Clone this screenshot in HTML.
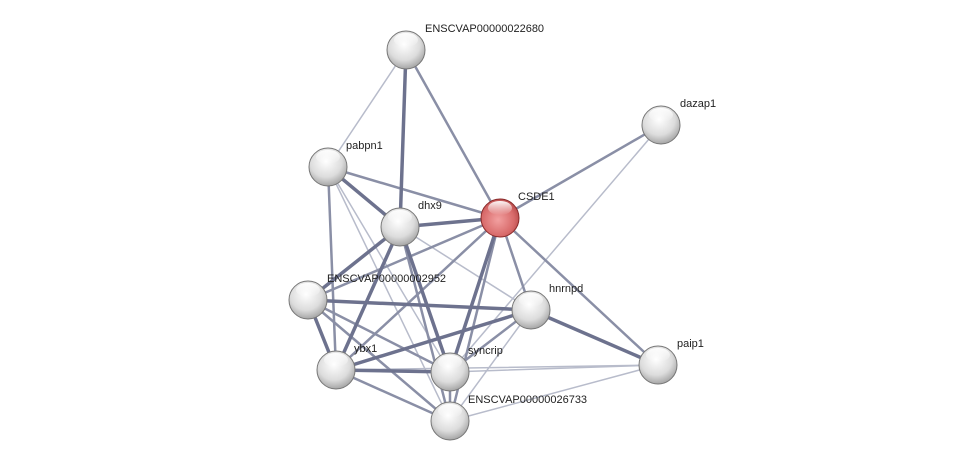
<!DOCTYPE html>
<html><head><meta charset="utf-8"><style>
html,body{margin:0;padding:0;background:#fff;width:975px;height:467px;overflow:hidden}
text{font-family:"Liberation Sans",sans-serif;font-size:11px;fill:#222}
</style></head><body>
<svg width="975" height="467" viewBox="0 0 975 467" xmlns="http://www.w3.org/2000/svg">
<defs>
<radialGradient id="g" cx="0.45" cy="0.35" r="0.7">
<stop offset="0" stop-color="#ffffff"/><stop offset="0.6" stop-color="#dcdcdc"/><stop offset="1" stop-color="#9a9a9a"/>
</radialGradient>
<radialGradient id="r" cx="0.45" cy="0.55" r="0.7">
<stop offset="0" stop-color="#f2a0a0"/><stop offset="0.6" stop-color="#d86a6a"/><stop offset="1" stop-color="#a03636"/>
</radialGradient>
<linearGradient id="hl" x1="0" y1="0" x2="0" y2="1">
<stop offset="0" stop-color="#fff" stop-opacity="0.95"/><stop offset="1" stop-color="#fff" stop-opacity="0"/>
</linearGradient>
</defs>
<g stroke-linecap="round">
<!-- light edges -->
<g stroke="#b8bccb" stroke-width="1.5">
<line x1="406" y1="50" x2="328" y2="167"/>
<line x1="661" y1="125" x2="450" y2="372"/>
<line x1="336" y1="370" x2="658" y2="365"/>
<line x1="450" y1="372" x2="658" y2="365"/>
<line x1="450" y1="421" x2="658" y2="365"/>
<line x1="328" y1="167" x2="450" y2="372"/>
<line x1="400" y1="227" x2="531" y2="310"/>
<line x1="450" y1="421" x2="531" y2="310"/>
<line x1="328" y1="167" x2="450" y2="421"/>
</g>
<!-- medium edges -->
<g stroke="#8a8fa6" stroke-width="2.5">
<line x1="406" y1="50" x2="500" y2="218"/>
<line x1="661" y1="125" x2="500" y2="218"/>
<line x1="328" y1="167" x2="500" y2="218"/>
<line x1="328" y1="167" x2="336" y2="370"/>
<line x1="500" y1="218" x2="658" y2="365"/>
<line x1="500" y1="218" x2="308" y2="300"/>
<line x1="500" y1="218" x2="336" y2="370"/>
<line x1="500" y1="218" x2="450" y2="421"/>
<line x1="500" y1="218" x2="531" y2="310"/>
<line x1="400" y1="227" x2="450" y2="421"/>
<line x1="308" y1="300" x2="450" y2="372"/>
<line x1="308" y1="300" x2="450" y2="421"/>
<line x1="336" y1="370" x2="450" y2="421"/>
<line x1="531" y1="310" x2="450" y2="372"/>
<line x1="450" y1="372" x2="450" y2="421"/>
</g>
<!-- thick edges -->
<g stroke="#6d728e" stroke-width="3.5">
<line x1="406" y1="50" x2="400" y2="227"/>
<line x1="328" y1="167" x2="400" y2="227"/>
<line x1="400" y1="227" x2="500" y2="218"/>
<line x1="400" y1="227" x2="308" y2="300"/>
<line x1="400" y1="227" x2="336" y2="370"/>
<line x1="400" y1="227" x2="450" y2="372"/>
<line x1="500" y1="218" x2="450" y2="372"/>
<line x1="308" y1="300" x2="531" y2="310"/>
<line x1="308" y1="300" x2="336" y2="370"/>
<line x1="531" y1="310" x2="336" y2="370"/>
<line x1="531" y1="310" x2="658" y2="365"/>
<line x1="336" y1="370" x2="450" y2="372"/>
</g>
</g>
<g stroke="#777" stroke-width="1">
<circle cx="406" cy="50" r="19" fill="url(#g)"/>
<circle cx="661" cy="125" r="19" fill="url(#g)"/>
<circle cx="328" cy="167" r="19" fill="url(#g)"/>
<circle cx="400" cy="227" r="19" fill="url(#g)"/>
<circle cx="500" cy="218" r="19" fill="url(#r)" stroke="#8a2a2a"/>
<circle cx="308" cy="300" r="19" fill="url(#g)"/>
<circle cx="531" cy="310" r="19" fill="url(#g)"/>
<circle cx="658" cy="365" r="19" fill="url(#g)"/>
<circle cx="336" cy="370" r="19" fill="url(#g)"/>
<circle cx="450" cy="372" r="19" fill="url(#g)"/>
<circle cx="450" cy="421" r="19" fill="url(#g)"/>
</g>
<g fill="url(#hl)">
<ellipse cx="406" cy="40" rx="12" ry="7"/><ellipse cx="661" cy="115" rx="12" ry="7"/>
<ellipse cx="328" cy="157" rx="12" ry="7"/><ellipse cx="400" cy="217" rx="12" ry="7"/>
<ellipse cx="500" cy="208" rx="12" ry="7"/><ellipse cx="308" cy="290" rx="12" ry="7"/>
<ellipse cx="531" cy="300" rx="12" ry="7"/><ellipse cx="658" cy="355" rx="12" ry="7"/>
<ellipse cx="336" cy="360" rx="12" ry="7"/><ellipse cx="450" cy="362" rx="12" ry="7"/>
<ellipse cx="450" cy="411" rx="12" ry="7"/>
</g>
<text x="425" y="32">ENSCVAP00000022680</text>
<text x="680" y="107">dazap1</text>
<text x="346" y="149">pabpn1</text>
<text x="418" y="209">dhx9</text>
<text x="518" y="200">CSDE1</text>
<text x="327" y="282">ENSCVAP00000002952</text>
<text x="549" y="292">hnrnpd</text>
<text x="677" y="347">paip1</text>
<text x="354" y="352">ybx1</text>
<text x="468" y="354">syncrip</text>
<text x="468" y="403">ENSCVAP00000026733</text>
</svg>
</body></html>
